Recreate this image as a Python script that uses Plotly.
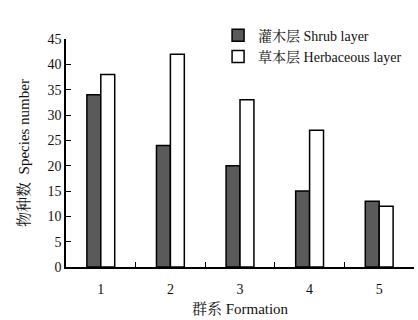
import plotly.graph_objects as go

formations = ["1", "2", "3", "4", "5"]
shrub = [34, 24, 20, 15, 13]
herb = [38, 42, 33, 27, 12]
y_ticks = [0, 5, 10, 15, 20, 25, 30, 35, 40, 45]

FONT = "Liberation Serif, Times New Roman, Noto Serif CJK SC, Noto Sans CJK SC, serif"

fig = go.Figure()
fig.add_trace(go.Bar(x=formations, y=shrub, name="灌木层 Shrub layer",
                     marker=dict(color="#5a5a5a", line=dict(color="black", width=1.5))))
fig.add_trace(go.Bar(x=formations, y=herb, name="草本层 Herbaceous layer",
                     marker=dict(color="white", line=dict(color="black", width=1.5))))

fig.update_layout(
    width=418, height=320,
    margin=dict(l=66, r=4, t=39, b=53),
    paper_bgcolor="white", plot_bgcolor="white",
    barmode="group", bargap=0.6, bargroupgap=0,
    font=dict(family=FONT, size=14, color="#111"),
    showlegend=True,
    legend=dict(x=0.437, y=1.085, xanchor="left", yanchor="top",
                bgcolor="rgba(0,0,0,0)", font=dict(size=14),
                tracegroupgap=0, itemwidth=30),
    xaxis=dict(type="category", showline=True, linecolor="black", linewidth=1.5,
               ticks="inside", tickson="boundaries", ticklen=5, tickcolor="black",
               showgrid=False, zeroline=False, ticklabelstandoff=8,
               title=dict(text="群系 Formation", standoff=8, font=dict(size=15))),
    yaxis=dict(range=[0, 45], tickvals=y_ticks, showline=True, linecolor="black",
               linewidth=1.5, ticks="inside", ticklen=5, tickcolor="black",
               showgrid=False, zeroline=False,
               title=dict(text="物种数  Species number", standoff=14, font=dict(size=15))),
)

fig.write_html("out.html")
